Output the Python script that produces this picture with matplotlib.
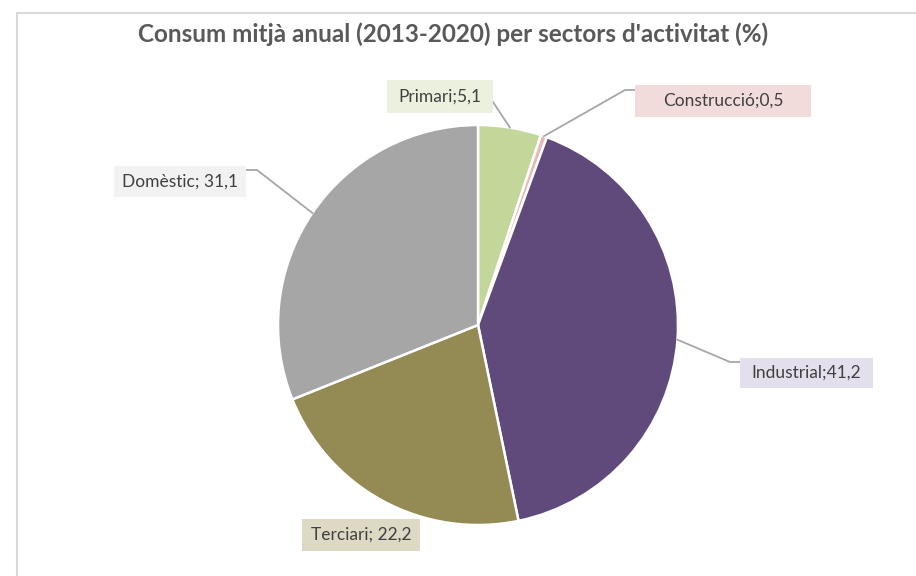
import numpy as np
import matplotlib.pyplot as plt
from matplotlib.patches import Rectangle

# Data
sectors = ["Primari", "Construcció", "Industrial", "Terciari", "Domèstic"]
values = [5.1, 0.5, 41.2, 22.2, 31.1]
labels = ["Primari;5,1", "Construcció;0,5", "Industrial;41,2", "Terciari; 22,2", "Domèstic; 31,1"]
colors = ["#C4D79B", "#E6B9B8", "#604A7B", "#948A54", "#A6A6A6"]
box_colors = ["#EBF1DE", "#F2DCDB", "#E4DFEC", "#DDD9C4", "#F2F2F2"]

W, H = 916, 576


def Y(y):
    # pixel rows from top -> axes coords (y up)
    return H - y


fig = plt.figure(figsize=(W / 100, H / 100), dpi=100)
ax = fig.add_axes([0, 0, 1, 1])

cx, cy, r = 478, Y(325), 200
wedges, _ = ax.pie(values, colors=colors, startangle=90, counterclock=False,
                   center=(cx, cy), radius=r,
                   wedgeprops=dict(edgecolor="white", linewidth=1.8))

ax.set_xlim(0, W)
ax.set_ylim(0, H)
ax.set_aspect("equal")
ax.axis("off")

# chart border
ax.add_patch(Rectangle((16.5, -20), W + 40, Y(12.5) + 20, fill=False,
                       edgecolor="#D9D9D9", linewidth=1.5))

ax.text(453, Y(34), "Consum mitjà anual (2013-2020) per sectors d'activitat (%)",
        ha="center", va="center", fontsize=17.5, fontweight="bold",
        color="#595959", family="Lato")

# label boxes: (left, top, width, height) in pixels from top-left
boxes = {
    "Primari": (387, 80, 106, 33),
    "Construcció": (635, 85, 176, 32),
    "Industrial": (740, 358, 133, 30),
    "Terciari": (302, 519, 118, 32),
    "Domèstic": (114, 166, 132, 31),
}
# leader line points after the pie edge
leaders = {
    "Primari": [(493, 102)],
    "Construcció": [(625, 90), (635, 90)],
    "Industrial": [(730, 362), (740, 362)],
    "Terciari": [],
    "Domèstic": [(257, 170), (246, 170)],
}

for w, name, lab, bc in zip(wedges, sectors, labels, box_colors):
    x0, y0, bw, bh = boxes[name]
    ax.add_patch(Rectangle((x0, Y(y0 + bh)), bw, bh, facecolor=bc,
                           edgecolor="none", zorder=3))
    ax.text(x0 + bw / 2, Y(y0 + bh / 2), lab, ha="center", va="center",
            fontsize=12.5, color="#404040", family="Lato", zorder=4)
    pts = leaders[name]
    if pts:
        mid = np.deg2rad((w.theta1 + w.theta2) / 2)
        xs = [cx + r * np.cos(mid)] + [p[0] for p in pts]
        ys = [cy + r * np.sin(mid)] + [Y(p[1]) for p in pts]
        ax.plot(xs, ys, color="#A6A6A6", linewidth=1.3, zorder=2)

fig.savefig("out.png", dpi=100)
